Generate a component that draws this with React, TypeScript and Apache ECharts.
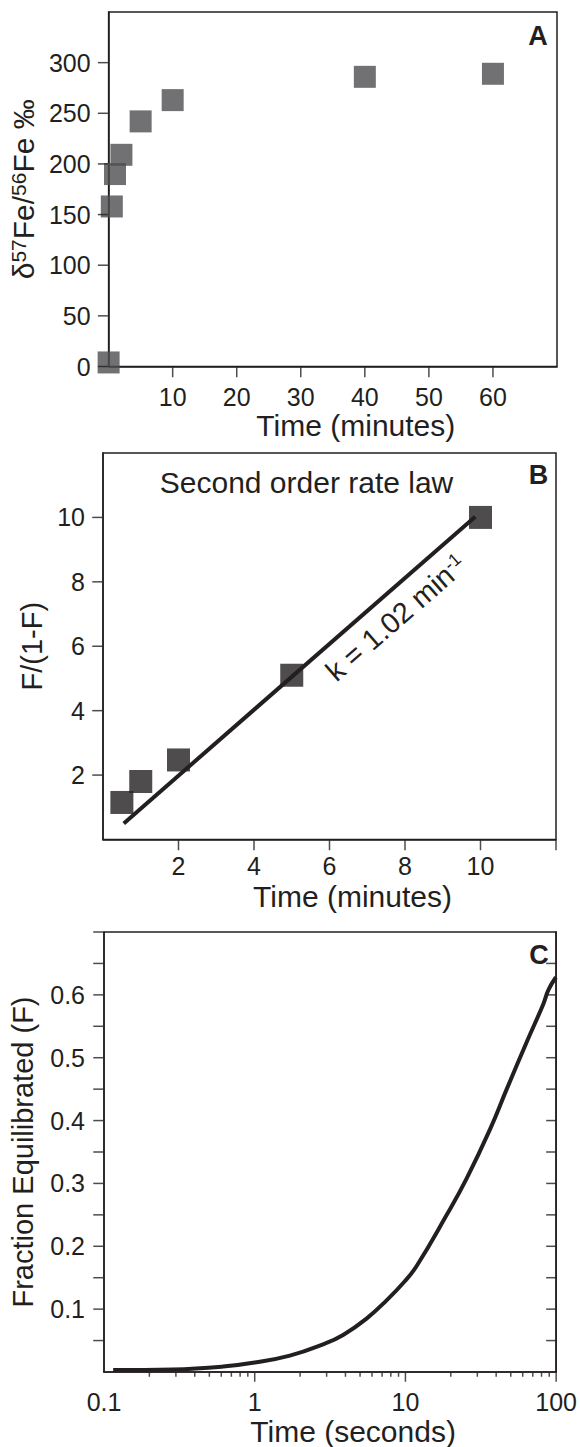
import React, { useEffect, useRef } from 'react';
import * as echarts from 'echarts';

const INK = '#231f20';
const GREY = '#4e4e50';
const FONT = '"Liberation Sans", Arial, Helvetica, sans-serif';

// ---------- Panel A ----------
const timeA = [0, 0.5, 1, 2, 5, 10, 40, 60];
const deltaA = [4, 158, 190, 209, 242, 263, 286, 289];
const xTicksA = [10, 20, 30, 40, 50, 60];
const yTicksA = [0, 50, 100, 150, 200, 250, 300];

// ---------- Panel B ----------
const timeB = [0.5, 1, 2, 5, 10];
const ratioB = [1.15, 1.8, 2.47, 5.1, 10.0];
const fitTimeB = [0.55, 9.86];
const fitRatioB = [0.5, 10.02];
const xTickMarksB = [2, 4, 6, 8, 10, 12];
const xLabelsB = [2, 4, 6, 8, 10];
const yTicksB = [2, 4, 6, 8, 10];

// ---------- Panel C ----------
const timeC = [0.115, 0.286, 0.616, 1, 1.71, 2.84, 3.86, 5.52, 7.5, 9.87, 11.9, 18.8, 25.5, 36.4, 47, 63.8, 82.4, 88.9, 99.6];
const fracC = [0.003, 0.004, 0.0086, 0.015, 0.026, 0.044, 0.059, 0.085, 0.114, 0.144, 0.169, 0.25, 0.308, 0.386, 0.45, 0.525, 0.586, 0.608, 0.628];
const xMajorTicksC = [1, 10, 100];
const xMinorTicksC = [0.2, 0.3, 0.4, 0.5, 0.6, 0.7, 0.8, 0.9, 2, 3, 4, 5, 6, 7, 8, 9, 20, 30, 40, 50, 60, 70, 80, 90];
const yTicksLeftC = [0.05, 0.1, 0.15, 0.2, 0.25, 0.3, 0.35, 0.4, 0.45, 0.5, 0.55, 0.6, 0.65, 0.7];
const yTicksRightC = [0.05, 0.1, 0.15, 0.2, 0.25, 0.3, 0.35, 0.4, 0.45, 0.5, 0.55, 0.6, 0.65];
const yLabelsC = [0.1, 0.2, 0.3, 0.4, 0.5, 0.6];

const axisLine = { show: true, onZero: false, lineStyle: { color: INK, width: 1.5 } };
const labelStyle = { color: INK, fontSize: 25, fontFamily: FONT };
const xNameStyle = { color: INK, fontSize: 30, fontFamily: FONT, padding: [0, 0, 0, 46] };
const yNameStyle = { color: INK, fontSize: 29, fontFamily: FONT };

const TICK = 10;
const LW = 1.5;

function tickSeries(xi: number, yi: number, points: number[][], vertical: boolean, outward: boolean, long = TICK) {
  const size = vertical ? [LW, long] : [long, LW];
  let offset: number[];
  if (vertical) {
    offset = [0, long / 2 + LW / 2];
  } else {
    offset = outward ? [-(long / 2 + LW / 2), 0] : [-long / 2, 0];
  }
  return {
    type: 'scatter', xAxisIndex: xi, yAxisIndex: yi, clip: false, silent: true, z: 3,
    symbol: 'rect', symbolSize: size, symbolOffset: offset,
    itemStyle: { color: INK },
    data: points,
  };
}

export default function App() {
  const ref = useRef<HTMLDivElement>(null);

  useEffect(() => {
    if (!ref.current) return;
    const chart = echarts.init(ref.current, null, { renderer: 'svg' });

    const option: any = {
      animation: false,
      backgroundColor: '#ffffff',
      grid: [
        { left: 102.5, top: 12, width: 454.5, height: 354.5, show: true, borderColor: INK, borderWidth: LW },
        { left: 103, top: 453, width: 453, height: 386.5, show: true, borderColor: INK, borderWidth: LW },
        { left: 103, top: 932, width: 453.5, height: 441, show: true, borderColor: INK, borderWidth: LW },
      ],
      xAxis: [
        {
          gridIndex: 0, type: 'value', min: 0, max: 70, interval: 10,
          axisLine, splitLine: { show: false }, axisTick: { show: false },
          axisLabel: { ...labelStyle, margin: 18, customValues: xTicksA },
          name: 'Time (minutes)', nameLocation: 'middle', nameGap: 42, nameTextStyle: xNameStyle,
        },
        {
          gridIndex: 1, type: 'value', min: 0, max: 12, interval: 2,
          axisLine, splitLine: { show: false }, axisTick: { show: false },
          axisLabel: { ...labelStyle, margin: 14, customValues: xLabelsB },
          name: 'Time (minutes)', nameLocation: 'middle', nameGap: 42, nameTextStyle: xNameStyle,
        },
        {
          gridIndex: 2, type: 'log', logBase: 10, min: 0.1, max: 100,
          axisLine, splitLine: { show: false }, minorSplitLine: { show: false }, axisTick: { show: false },
          axisLabel: {
            ...labelStyle, margin: 17,
            formatter: (v: number) => (v < 1 ? v.toFixed(1) : String(Math.round(v))),
          },
          name: 'Time (seconds)', nameLocation: 'middle', nameGap: 44, nameTextStyle: xNameStyle,
        },
      ],
      yAxis: [
        {
          gridIndex: 0, type: 'value', min: 0, max: 350, interval: 50,
          axisLine, splitLine: { show: false }, axisTick: { show: false },
          axisLabel: { ...labelStyle, margin: 18, customValues: yTicksA },
          name: '{n|δ}{s|57}{n|Fe/}{s|56}{n|Fe ‰}', nameLocation: 'middle', nameGap: 60,
          nameTextStyle: {
            ...yNameStyle,
            rich: {
              n: { fontSize: 30, fontFamily: FONT, color: INK, verticalAlign: 'bottom' },
              s: { fontSize: 21, fontFamily: FONT, color: INK, verticalAlign: 'top' },
            },
          },
        },
        {
          gridIndex: 1, type: 'value', min: 0, max: 12, interval: 2,
          axisLine, splitLine: { show: false }, axisTick: { show: false },
          axisLabel: { ...labelStyle, margin: 18, customValues: yTicksB },
          name: 'F/(1-F)', nameLocation: 'middle', nameGap: 52, nameTextStyle: yNameStyle,
        },
        {
          gridIndex: 2, type: 'value', min: 0, max: 0.7, interval: 0.05,
          axisLine, splitLine: { show: false }, axisTick: { show: false },
          axisLabel: { ...labelStyle, margin: 19, customValues: yLabelsC, formatter: (v: number) => v.toFixed(1) },
          name: 'Fraction Equilibrated (F)', nameLocation: 'middle', nameGap: 67, nameTextStyle: yNameStyle,
        },
        {
          gridIndex: 2, type: 'value', position: 'right', min: 0, max: 0.7, interval: 0.05,
          axisLine, splitLine: { show: false }, axisTick: { show: false }, axisLabel: { show: false },
        },
      ],
      series: [
        {
          type: 'scatter', xAxisIndex: 0, yAxisIndex: 0, clip: false, silent: true,
          symbol: 'rect', symbolSize: 22,
          itemStyle: { color: GREY },
          data: timeA.map((t, i) => [t, deltaA[i]]),
        },
        {
          type: 'line', xAxisIndex: 1, yAxisIndex: 1, silent: true, showSymbol: false, symbol: 'none',
          lineStyle: { color: INK, width: 4 },
          data: fitTimeB.map((t, i) => [t, fitRatioB[i]]),
        },
        {
          type: 'scatter', xAxisIndex: 1, yAxisIndex: 1, clip: false, silent: true,
          symbol: 'rect', symbolSize: 23,
          itemStyle: { color: INK },
          data: timeB.map((t, i) => [t, ratioB[i]]),
        },
        {
          type: 'line', xAxisIndex: 2, yAxisIndex: 2, silent: true, showSymbol: false, symbol: 'none',
          smooth: 0.45,
          lineStyle: { color: INK, width: 4 },
          data: timeC.map((t, i) => [t, fracC[i]]),
        },
        // axis ticks
        tickSeries(0, 0, xTicksA.map((v) => [v, 0]), true, true),
        tickSeries(0, 0, yTicksA.map((v) => [0, v]), false, true),
        tickSeries(1, 1, xTickMarksB.map((v) => [v, 0]), true, true),
        tickSeries(1, 1, yTicksB.map((v) => [0, v]), false, true),
        tickSeries(2, 2, xMajorTicksC.map((v) => [v, 0]), true, true, 9),
        tickSeries(2, 2, xMinorTicksC.map((v) => [v, 0]), true, true, 4),
        tickSeries(2, 2, yTicksLeftC.map((v) => [0.1, v]), false, true),
        tickSeries(2, 2, yTicksRightC.map((v) => [100, v]), false, false),
      ],
      graphic: [
        { type: 'text', x: 538, y: 36, silent: true, style: { text: 'A', fill: INK, fontSize: 27, fontWeight: 'bold', fontFamily: FONT, align: 'center', verticalAlign: 'middle' } },
        { type: 'text', x: 538.5, y: 475, silent: true, style: { text: 'B', fill: INK, fontSize: 27, fontWeight: 'bold', fontFamily: FONT, align: 'center', verticalAlign: 'middle' } },
        { type: 'text', x: 539, y: 955, silent: true, style: { text: 'C', fill: INK, fontSize: 27, fontWeight: 'bold', fontFamily: FONT, align: 'center', verticalAlign: 'middle' } },
        { type: 'text', x: 306.5, y: 482.5, silent: true, style: { text: 'Second order rate law', fill: INK, fontSize: 30, fontFamily: FONT, align: 'center', verticalAlign: 'middle' } },
        {
          type: 'text', x: 396, y: 618, rotation: (41 * Math.PI) / 180, silent: true,
          style: {
            text: '{a|k = 1.02 min}{b|-1}', fill: INK, fontSize: 29, fontFamily: FONT,
            align: 'center', verticalAlign: 'middle',
            rich: {
              a: { fontSize: 29, fontFamily: FONT, fill: INK, verticalAlign: 'bottom' },
              b: { fontSize: 18, fontFamily: FONT, fill: INK, verticalAlign: 'top' },
            },
          },
        },
      ],
    };

    chart.setOption(option);
    return () => chart.dispose();
  }, []);

  return <div ref={ref} style={{ position: 'absolute', left: 0, top: 0, width: 580, height: 1447 }} />;
}
